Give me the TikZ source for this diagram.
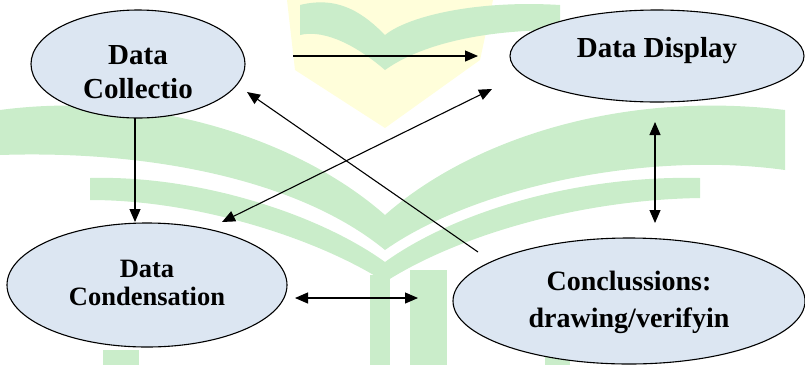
\documentclass[tikz,border=0pt]{standalone}
\usepackage{fontspec}
\setmainfont{Liberation Serif}
\usetikzlibrary{shapes.geometric,arrows.meta}

\begin{document}
\begin{tikzpicture}[x=1pt,y=-1pt,
  blob/.style={ellipse,draw,line width=1.1pt,fill=Cell,inner sep=0pt},
  lbl/.style={align=center,inner sep=0pt},
  link/.style={line width=1.1pt,-{Triangle[length=13pt,width=11pt]}},
  twoway/.style={line width=1.1pt,{Triangle[length=13pt,width=11pt]}-{Triangle[length=13pt,width=11pt]}}]
%\draw[help lines,step=50] (0,0) grid (805,365);
\definecolor{Cell}{RGB}{220,230,242}
\definecolor{Leaf}{RGB}{202,237,202}
\definecolor{Sand}{RGB}{255,254,218}
\useasboundingbox (0,0) rectangle (805,365);

%% Watermark (logo in the background)
\fill[Sand] (287,0) -- (493,0) -- (480,60) -- (385,128) -- (295,70) -- cycle;
\fill[Leaf] (300,5) .. controls (340,-5) and (365,15) .. (385,35)
	.. controls (410,15) and (480,0) .. (560,5) -- (560,30)
	.. controls (480,30) and (420,45) .. (385,70)
	.. controls (350,40) and (320,30) .. (300,35) -- cycle;
\fill[Leaf] (0,110) .. controls (150,90) and (300,140) .. (385,215)
	.. controls (470,140) and (620,90) .. (785,110) -- (785,170)
	.. controls (640,150) and (470,190) .. (385,250)
	.. controls (300,180) and (150,150) .. (0,155) -- cycle;
\fill[Leaf] (90,178) .. controls (200,175) and (320,215) .. (385,262)
	.. controls (450,215) and (570,175) .. (700,178) -- (700,198)
	.. controls (570,200) and (450,240) .. (385,282)
	.. controls (320,240) and (200,200) .. (90,200) -- cycle;
\fill[Leaf] (410,270) rectangle (447,365);
\fill[Leaf] (370,275) rectangle (390,365);
\fill[Leaf] (545,265) rectangle (570,365);
\fill[Leaf] (103,350) rectangle (139,365);

%% Ellipses
\node[blob,minimum width=214pt,minimum height=108pt] (coll) at (138,64) {};
\node[blob,minimum width=294pt,minimum height=92pt] (disp) at (657,56) {};
\node[blob,minimum width=280pt,minimum height=124pt] (cond) at (147,285) {};
\node[blob,minimum width=352pt,minimum height=126pt] (conc) at (629,301) {};

%% Texts
\node[lbl,font=\fontsize{29}{34}\selectfont\bfseries] (collT) at (138,72) {Data\\Collectio};
\node[lbl,font=\fontsize{29}{34}\selectfont\bfseries,anchor=base] (dispT) at (657,57) {Data Display};
\node[lbl,font=\fontsize{26.5}{28}\selectfont\bfseries] (condT) at (147,283) {Data\\Condensation};
\node[lbl,font=\fontsize{28}{37}\selectfont\bfseries] (concT) at (629,302) {Conclussions:\\drawing/verifyin};

%% Arrow ends
\coordinate (collR) at (293,56);
\coordinate (dispL) at (478,56);
\coordinate (collB) at (135,118);
\coordinate (condT) at (135,222);
\coordinate (condR) at (222,222);
\coordinate (dispLB) at (492,89);
\coordinate (concL) at (478,252);
\coordinate (collRB) at (247,92);
\coordinate (dispB) at (655,122);
\coordinate (concT) at (655,223);
\coordinate (condE) at (295,298);
\coordinate (concW) at (418,298);

%% Arrows
\draw[link] (collR) -- (dispL);
\draw[link] (collB) -- (condT);
\draw[twoway] (condR) -- (dispLB);
\draw[link] (concL) -- (collRB);
\draw[twoway] (dispB) -- (concT);
\draw[twoway] (condE) -- (concW);
\end{tikzpicture}
\end{document}
